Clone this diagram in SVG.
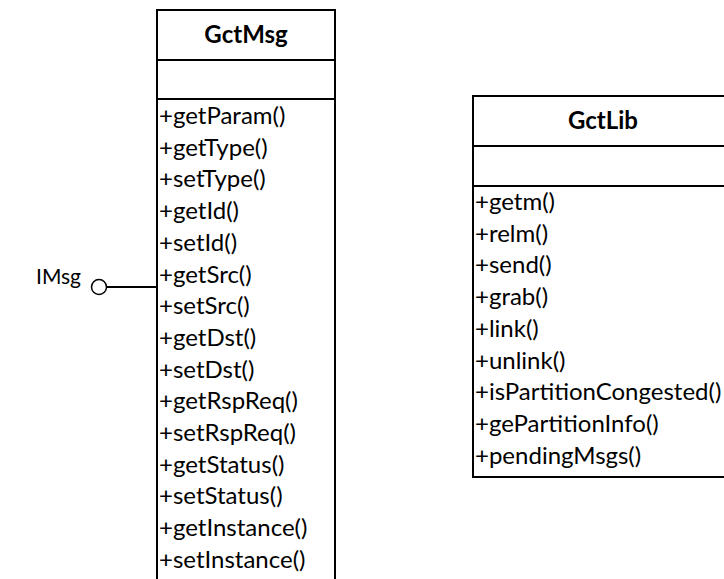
<svg xmlns="http://www.w3.org/2000/svg" width="724" height="579" viewBox="0 0 724 579">
<style>
.box{fill:#fff;stroke:#000;stroke-width:2}
.ln{stroke:#000;stroke-width:2;fill:none}
.t{font-family:Lato,"Liberation Sans",sans-serif;font-size:24px;fill:#000}
.h{font-family:Lato,"Liberation Sans",sans-serif;font-size:24px;font-weight:bold;fill:#000;text-anchor:middle}
.lbl{font-family:Lato,"Liberation Sans",sans-serif;font-size:21px;fill:#000}
</style>
<rect width="724" height="579" fill="#fff"/>
<g id="GctMsg">
<rect class="box" x="157" y="10" width="178" height="580"/>
<line class="ln" x1="157" y1="60" x2="335" y2="60"/>
<line class="ln" x1="157" y1="99" x2="335" y2="99"/>
<text class="h" x="246" y="43">GctMsg</text>
<text class="t" x="159" y="124">+getParam()</text>
<text class="t" x="159" y="155.7">+getType()</text>
<text class="t" x="159" y="187.4">+setType()</text>
<text class="t" x="159" y="219.1">+getId()</text>
<text class="t" x="159" y="250.8">+setId()</text>
<text class="t" x="159" y="282.5">+getSrc()</text>
<text class="t" x="159" y="314.2">+setSrc()</text>
<text class="t" x="159" y="345.9">+getDst()</text>
<text class="t" x="159" y="377.6">+setDst()</text>
<text class="t" x="159" y="409.3">+getRspReq()</text>
<text class="t" x="159" y="441">+setRspReq()</text>
<text class="t" x="159" y="472.7">+getStatus()</text>
<text class="t" x="159" y="504.4">+setStatus()</text>
<text class="t" x="159" y="536.1">+getInstance()</text>
<text class="t" x="159" y="567.8">+setInstance()</text>
</g>
<g id="GctLib">
<rect class="box" x="473" y="96" width="262" height="381"/>
<line class="ln" x1="473" y1="146" x2="735" y2="146"/>
<line class="ln" x1="473" y1="186" x2="735" y2="186"/>
<text class="h" x="603" y="129">GctLib</text>
<text class="t" x="475" y="210">+getm()</text>
<text class="t" x="475" y="241.7">+relm()</text>
<text class="t" x="475" y="273.4">+send()</text>
<text class="t" x="475" y="305.1">+grab()</text>
<text class="t" x="475" y="336.8">+link()</text>
<text class="t" x="475" y="368.5">+unlink()</text>
<text class="t" x="475" y="400.2">+isPartitionCongested()</text>
<text class="t" x="475" y="431.9">+gePartitionInfo()</text>
<text class="t" x="475" y="463.6">+pendingMsgs()</text>
</g>
<g id="IMsg">
<text class="lbl" x="36" y="284">IMsg</text>
<circle cx="99" cy="287" r="7.5" fill="#fff" stroke="#000" stroke-width="1.5"/>
</g>
<g id="connectors">
<line class="ln" x1="106.5" y1="287" x2="157" y2="287"/>
</g>
</svg>
